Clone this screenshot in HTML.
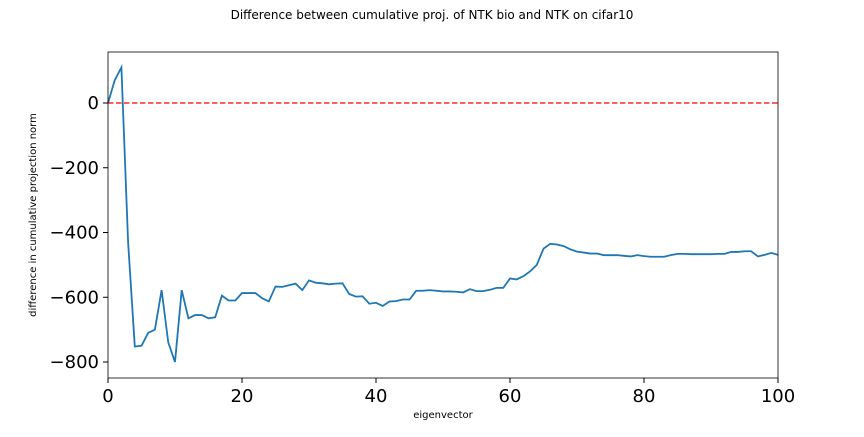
<!DOCTYPE html>
<html><head><meta charset="utf-8"><style>
body{margin:0;background:#fff}
svg text{font-family:"DejaVu Sans","Liberation Sans",sans-serif}
</style></head><body>
<svg id="c" width="864" height="432">
<text x="432" y="19" font-size="12" text-anchor="middle">Difference between cumulative proj. of NTK bio and NTK on cifar10</text>
<text x="443" y="418" font-size="10" text-anchor="middle">eigenvector</text>
<text transform="translate(36,215) rotate(-90)" font-size="10" text-anchor="middle">difference in cumulative projection norm</text>
<g id="ax"></g>
</svg>
<script>
const xTicks=[0,20,40,60,80,100];
const yTicks=[0,-200,-400,-600,-800];
const values=[0,70,110,-430,-752,-750,-710,-700,-578,-740,-800,-578,-665,-655,-655,-665,-662,-595,-610,-610,-587,-587,-587,-603,-613,-567,-568,-563,-558,-578,-548,-555,-557,-560,-558,-557,-590,-598,-597,-620,-617,-627,-613,-612,-607,-607,-580,-580,-578,-580,-582,-582,-583,-585,-575,-581,-581,-577,-571,-571,-542,-545,-535,-520,-500,-450,-435,-437,-442,-452,-459,-462,-465,-465,-470,-470,-470,-472,-474,-470,-473,-475,-475,-475,-470,-466,-466,-467,-467,-467,-467,-466,-466,-460,-460,-458,-458,-474,-469,-463,-469];
const L=108,R=778,T=52,B=378;
const X=v=>L+(v/100)*(R-L);
const Y=v=>103-(v/800)*259;
const ns="http://www.w3.org/2000/svg",g=document.getElementById('ax');
function mk(t,a){const e=document.createElementNS(ns,t);for(const k in a)e.setAttribute(k,a[k]);g.appendChild(e);return e;}
const line=mk('line',{x1:L,x2:R,y1:Y(0),y2:Y(0),stroke:'#ff2a2a','stroke-width':1.5,'stroke-dasharray':'5.5,2.5'});


const p=mk('polyline',{points:values.map((v,i)=>X(i)+','+Y(v)).join(' '),fill:'none',stroke:'#1f77b4','stroke-width':1.8});


const fr=mk('rect',{x:L,y:T,width:R-L,height:B-T,fill:'none',stroke:'#000','stroke-width':0.8});


xTicks.forEach(t=>{
 const tk=mk('line',{x1:X(t),x2:X(t),y1:B,y2:B+5,stroke:'#000'});
 
 
 const tx=mk('text',{x:X(t),y:B+24,'font-size':18,'text-anchor':'middle'});tx.textContent=t;
 
 
});
yTicks.forEach(t=>{
 const tk=mk('line',{x1:L-5,x2:L,y1:Y(t),y2:Y(t),stroke:'#000'});
 
 
 const tx=mk('text',{x:L-9,y:Y(t)+6,'font-size':18,'text-anchor':'end'});tx.textContent=(t<0?'\u2212'+(-t):t);
 
 
});
</script>
</body></html>
